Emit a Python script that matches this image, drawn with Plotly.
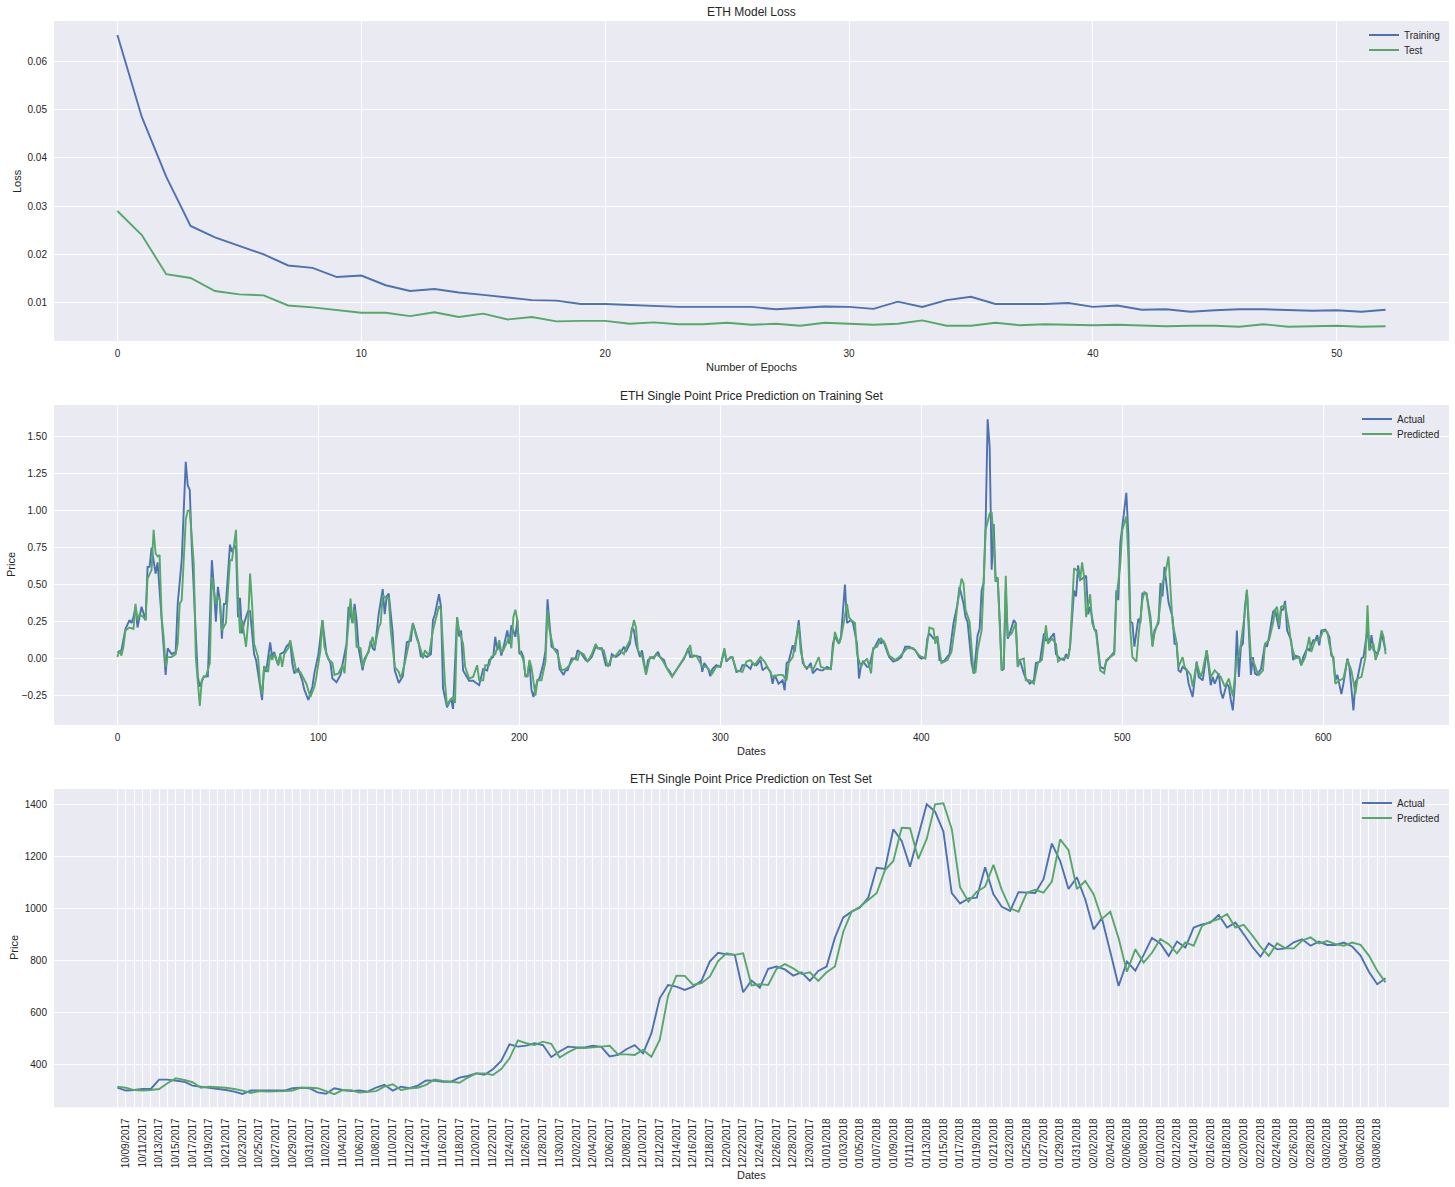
import pandas as pd
import plotly.graph_objects as go

# ---------------- data ----------------
epochs = list(range(53))
loss_train = [0.0655, 0.0485, 0.0361, 0.0259, 0.0235, 0.0217, 0.0200, 0.0177, 0.0172, 0.0153,
              0.0156, 0.0136, 0.0124, 0.0128, 0.0121, 0.0116, 0.0111, 0.0105, 0.0104, 0.0097,
              0.0097, 0.0095, 0.0093, 0.0091, 0.0091, 0.0091, 0.0091, 0.0086, 0.0089, 0.0092,
              0.0091, 0.0087, 0.0102, 0.0091, 0.0105, 0.0112, 0.0097, 0.0097, 0.0097, 0.0099,
              0.0091, 0.0094, 0.0085, 0.0086, 0.0081, 0.0084, 0.0086, 0.0086, 0.0085, 0.0083,
              0.0084, 0.0081, 0.0085]
loss_test = [0.0290, 0.0240, 0.0159, 0.0151, 0.0124, 0.0117, 0.0115, 0.0094, 0.0090, 0.0084,
             0.0079, 0.0079, 0.0072, 0.0080, 0.0070, 0.0077, 0.0065, 0.0070, 0.0061, 0.0062,
             0.0062, 0.0056, 0.0059, 0.0055, 0.0055, 0.0058, 0.0054, 0.0056, 0.0052, 0.0058,
             0.0056, 0.0054, 0.0056, 0.0063, 0.0052, 0.0052, 0.0058, 0.0053, 0.0055, 0.0054,
             0.0053, 0.0054, 0.0053, 0.0051, 0.0052, 0.0052, 0.0050, 0.0055, 0.0050, 0.0051,
             0.0052, 0.0050, 0.0051]

train_actual_idx = [
    0, 2, 4, 6, 7, 8, 9, 10, 12, 14, 15, 16, 17, 19, 20, 22, 24, 25, 27, 29, 30, 32, 34, 35, 36, 37, 38, 40, 41, 43,
    45, 47, 48, 49, 50, 51, 52, 53, 54, 56, 57, 58, 59, 60, 61, 62, 63, 65, 66, 68, 69, 72, 73, 74, 76, 77, 78, 80, 81, 83,
    84, 86, 87, 88, 90, 92, 93, 95, 97, 98, 100, 102, 104, 106, 107, 109, 111, 112, 114, 115, 117, 118, 119, 120, 122, 123, 125, 126, 127, 128,
    130, 132, 133, 134, 135, 137, 138, 140, 142, 144, 146, 147, 150, 151, 152, 154, 156, 157, 158, 160, 161, 162, 164, 165, 166, 167, 169, 170, 171, 172,
    175, 177, 179, 180, 182, 184, 185, 187, 188, 189, 190, 191, 192, 194, 195, 196, 197, 198, 199, 200, 201, 202, 203, 204, 205, 206, 207, 209, 210, 212,
    213, 214, 215, 216, 217, 219, 220, 222, 223, 224, 226, 228, 229, 231, 233, 234, 236, 238, 239, 241, 243, 245, 246, 248, 250, 252, 253, 255, 256, 257,
    258, 260, 261, 263, 264, 266, 267, 269, 270, 272, 273, 275, 276, 278, 280, 282, 284, 285, 287, 290, 291, 292, 294, 295, 296, 298, 300, 302, 303, 305,
    306, 308, 310, 311, 313, 315, 316, 318, 320, 321, 323, 325, 326, 327, 329, 331, 332, 333, 334, 336, 337, 339, 340, 341, 343, 345, 346, 348, 350, 351,
    353, 355, 356, 357, 359, 360, 362, 363, 365, 366, 368, 369, 370, 371, 373, 374, 376, 377, 379, 380, 381, 383, 384, 386, 388, 390, 392, 394, 397, 399,
    400, 402, 403, 404, 406, 408, 409, 411, 413, 414, 416, 418, 419, 421, 422, 423, 425, 426, 427, 428, 429, 430, 431, 432, 433, 434, 435, 436, 437, 438,
    439, 440, 441, 442, 443, 444, 446, 447, 448, 449, 451, 452, 454, 456, 457, 459, 461, 462, 463, 464, 466, 467, 469, 471, 472, 473, 474, 476, 477, 478,
    479, 480, 482, 483, 484, 486, 487, 489, 491, 492, 494, 496, 497, 498, 499, 501, 502, 503, 504, 505, 506, 508, 509, 510, 511, 512, 514, 515, 516, 518,
    519, 520, 521, 522, 523, 525, 526, 527, 528, 529, 530, 532, 533, 535, 536, 537, 538, 540, 541, 542, 544, 545, 546, 548, 549, 550, 552, 553, 554, 555,
    556, 557, 558, 559, 560, 561, 562, 563, 564, 565, 566, 567, 569, 571, 572, 573, 575, 576, 578, 579, 580, 581, 582, 584, 585, 586, 588, 589, 590, 592,
    593, 595, 596, 597, 598, 599, 601, 603, 604, 605, 606, 607, 609, 610, 612, 613, 615, 616, 617, 619, 620, 622, 623, 624, 625, 627, 628, 629, 631]
train_actual_val = [
    0.04, 0.056, 0.20, 0.26, 0.24, 0.28, 0.35, 0.21, 0.35, 0.26, 0.62, 0.62, 0.75, 0.575, 0.65, 0.26, -0.11, 0.07, 0.03, 0.045, 0.37, 0.665, 1.33, 1.17, 1.14, 0.755, 0.46, -0.12, -0.19, -0.12,
    -0.12, 0.665, 0.485, 0.25, 0.485, 0.39, 0.135, 0.37, 0.37, 0.77, 0.72, 0.755, 0.76, 0.28, 0.41, 0.17, 0.24, 0.32, 0.32, 0.03, -0.01, -0.28, -0.05, -0.09, 0.11, 0.01, 0.045, -0.045, 0.03, 0.045,
    0.08, 0.11, -0.03, -0.10, -0.07, -0.15, -0.21, -0.28, -0.19, -0.10, 0.03, 0.26, 0.03, -0.03, -0.135, -0.16, -0.11, -0.03, 0.10, 0.35, 0.24, 0.37, 0.26, 0.07, -0.08, 0.0, 0.045, 0.12, 0.07, 0.056,
    0.30, 0.47, 0.30, 0.42, 0.44, 0.17, -0.08, -0.165, -0.12, 0.11, 0.12, 0.24, 0.10, 0.01, 0.03, 0.01, 0.03, 0.26, 0.30, 0.435, 0.35, -0.20, -0.33, -0.30, -0.27, -0.34, 0.28, 0.15, 0.19, -0.08,
    -0.15, -0.15, -0.17, -0.18, -0.07, -0.08, -0.01, 0.01, 0.147, 0.056, 0.10, 0.02, 0.07, 0.19, 0.10, 0.225, 0.19, 0.147, 0.26, 0.03, 0.045, 0.01, -0.12, -0.12, -0.02, -0.21, -0.26, -0.147, -0.135, -0.03,
    0.056, 0.40, 0.24, 0.08, 0.07, 0.056, -0.07, -0.11, -0.08, -0.08, 0.0, 0.0, 0.056, 0.03, -0.01, -0.02, 0.01, 0.08, 0.07, 0.07, -0.045, -0.045, 0.03, 0.01, 0.03, 0.08, 0.045, 0.10, 0.21, 0.19,
    0.10, 0.01, 0.056, -0.10, -0.01, 0.01, 0.01, 0.045, 0.01, -0.01, -0.056, -0.09, -0.12, -0.08, -0.045, 0.0, 0.07, 0.01, 0.02, 0.01, -0.09, -0.03, -0.07, -0.12, -0.07, -0.045, -0.056, 0.056, -0.02, 0.01,
    0.01, -0.09, -0.08, -0.045, -0.045, -0.07, -0.03, -0.045, -0.01, -0.08, -0.056, -0.09, -0.17, -0.11, -0.17, -0.147, -0.214, -0.03, -0.02, 0.09, 0.045, 0.26, 0.10, -0.03, -0.07, -0.03, -0.10, -0.07, -0.08, -0.08,
    -0.056, -0.07, 0.10, 0.147, 0.10, 0.147, 0.50, 0.24, 0.26, 0.24, 0.10, -0.135, -0.045, -0.02, -0.056, -0.056, 0.056, 0.08, 0.135, 0.10, 0.124, 0.045, 0.01, -0.02, -0.01, 0.01, 0.08, 0.08, 0.056, 0.01,
    0.0, 0.01, 0.135, 0.17, 0.135, 0.147, -0.01, -0.02, 0.01, 0.03, 0.24, 0.37, 0.485, 0.37, 0.28, 0.25, -0.03, -0.10, 0.01, 0.158, 0.20, 0.46, 0.51, 0.91, 1.617, 1.43, 0.60, 0.91, 0.52, 0.54,
    0.26, -0.08, -0.07, 0.46, 0.135, 0.17, 0.26, 0.24, -0.056, -0.01, -0.10, -0.135, -0.17, -0.147, -0.03, -0.02, 0.17, 0.124, 0.124, 0.135, 0.17, 0.03, 0.0, -0.01, 0.03, 0.0, 0.08, 0.46, 0.42, 0.63,
    0.53, 0.54, 0.56, 0.30, 0.35, 0.20, 0.19, -0.056, -0.07, -0.02, 0.01, 0.045, 0.46, 0.395, 0.78, 1.03, 1.12, 0.846, 0.25, 0.24, 0.08, 0.27, 0.24, 0.44, 0.44, 0.44, 0.28, 0.09, 0.19, 0.24,
    0.51, 0.42, 0.62, 0.51, 0.38, 0.28, 0.10, 0.10, -0.08, -0.09, -0.056, -0.08, -0.17, -0.26, -0.147, -0.02, -0.124, -0.147, -0.056, 0.056, -0.18, -0.124, -0.17, -0.10, -0.225, -0.27, -0.17, -0.19, -0.28, -0.35,
    -0.17, 0.19, -0.124, 0.08, 0.10, 0.35, 0.46, 0.21, -0.11, 0.01, -0.10, -0.11, -0.07, 0.10, 0.08, 0.147, 0.315, 0.33, 0.20, 0.33, 0.33, 0.39, 0.19, 0.124, -0.01, 0.02, 0.01, -0.045, 0.01, 0.07,
    0.056, 0.124, 0.124, 0.158, 0.09, 0.19, 0.196, 0.147, 0.02, 0.01, -0.147, -0.11, -0.24, -0.17, 0.0, -0.056, -0.35, -0.158, -0.135, 0.0, 0.01, 0.20, 0.056, 0.158, 0.056, 0.03, 0.07, 0.17, 0.056]

train_pred_idx = [
    0, 1, 2, 3, 4, 6, 8, 9, 10, 11, 13, 14, 15, 17, 18, 19, 20, 21, 22, 23, 24, 25, 27, 29, 30, 31, 32, 34, 35, 36,
    38, 39, 41, 42, 43, 44, 46, 47, 49, 50, 51, 52, 54, 55, 56, 57, 59, 60, 61, 62, 64, 65, 66, 67, 68, 70, 71, 72, 73, 75,
    76, 77, 78, 80, 81, 82, 83, 85, 86, 88, 89, 91, 93, 94, 96, 98, 99, 101, 102, 103, 105, 107, 108, 110, 112, 113, 114, 116, 117, 118,
    119, 121, 122, 124, 125, 127, 128, 130, 131, 132, 134, 135, 136, 138, 140, 141, 143, 145, 147, 149, 151, 152, 153, 155, 157, 159, 160, 161, 163, 164,
    165, 167, 168, 169, 170, 172, 173, 175, 177, 179, 180, 182, 183, 185, 186, 188, 190, 191, 192, 195, 196, 197, 198, 199, 200, 202, 203, 204, 205, 206,
    208, 209, 211, 213, 214, 215, 217, 219, 221, 223, 225, 227, 229, 230, 232, 234, 236, 238, 239, 242, 244, 246, 248, 250, 252, 253, 255, 257, 258, 259,
    261, 263, 265, 267, 268, 270, 272, 274, 276, 278, 281, 283, 285, 286, 288, 291, 293, 296, 298, 300, 302, 303, 306, 308, 311, 313, 315, 317, 320, 322,
    324, 326, 329, 331, 333, 334, 336, 337, 339, 340, 342, 345, 346, 349, 350, 353, 355, 357, 359, 360, 363, 364, 365, 367, 368, 370, 371, 373, 375, 376,
    378, 380, 382, 384, 387, 389, 393, 396, 399, 402, 404, 406, 407, 408, 410, 413, 415, 417, 418, 420, 421, 422, 424, 426, 427, 428, 430, 431, 432, 434,
    435, 436, 437, 438, 439, 440, 441, 442, 443, 445, 447, 448, 449, 451, 452, 454, 456, 458, 460, 462, 463, 465, 467, 468, 470, 472, 473, 474, 476, 478,
    479, 480, 481, 482, 484, 485, 487, 489, 491, 492, 494, 496, 497, 499, 500, 502, 503, 504, 505, 507, 508, 510, 511, 512, 514, 515, 516, 518, 520, 521,
    523, 524, 525, 527, 528, 530, 531, 534, 535, 537, 539, 540, 542, 544, 546, 549, 551, 553, 554, 555, 557, 558, 559, 561, 562, 563, 564, 566, 567, 568,
    570, 571, 573, 575, 576, 577, 578, 579, 581, 583, 584, 586, 588, 589, 591, 593, 594, 596, 598, 600, 602, 603, 605, 606, 608, 610, 612, 614, 616, 617,
    619, 621, 622, 623, 625, 626, 627, 629, 630, 631]
train_pred_val = [
    0.01, 0.056, 0.02, 0.08, 0.19, 0.21, 0.20, 0.37, 0.26, 0.30, 0.28, 0.26, 0.54, 0.60, 0.87, 0.71, 0.69, 0.70, 0.28, 0.147, -0.056, 0.01, 0.01, 0.03, 0.10, 0.37, 0.395, 0.94, 1.00, 1.00,
    0.64, 0.01, -0.32, -0.147, -0.12, -0.124, -0.03, 0.55, 0.37, 0.42, 0.395, 0.19, 0.24, 0.42, 0.665, 0.665, 0.87, 0.42, 0.17, 0.26, 0.08, 0.24, 0.575, 0.37, 0.10, 0.01, -0.17, -0.24, -0.056, -0.09,
    0.03, -0.01, 0.03, -0.045, 0.03, -0.056, 0.03, 0.07, 0.124, -0.02, -0.09, -0.09, -0.147, -0.17, -0.26, -0.19, -0.124, 0.056, 0.26, 0.08, -0.005, -0.03, -0.11, -0.10, -0.045, -0.10, 0.08, 0.405, 0.24, 0.33,
    0.08, 0.07, -0.056, 0.01, 0.056, 0.147, 0.07, 0.21, 0.24, 0.43, 0.405, 0.41, 0.19, -0.056, -0.09, -0.135, -0.03, 0.10, 0.237, 0.135, 0.056, 0.0, 0.056, 0.02, 0.19, 0.30, 0.354, 0.33, -0.17, -0.316,
    -0.29, -0.26, -0.30, 0.28, 0.19, 0.10, -0.056, -0.135, -0.124, -0.045, -0.147, -0.147, -0.045, -0.045, 0.01, 0.03, 0.124, 0.045, 0.056, 0.147, 0.07, 0.28, 0.33, 0.26, 0.056, -0.01, -0.11, -0.124, -0.01, -0.056,
    -0.25, -0.147, -0.147, -0.02, 0.33, 0.19, 0.07, 0.03, -0.08, -0.07, -0.045, 0.0, -0.01, 0.045, 0.03, -0.02, 0.03, 0.10, 0.07, 0.056, -0.056, 0.01, 0.02, 0.056, 0.03, 0.07, 0.124, 0.26, 0.21, 0.056,
    0.02, -0.11, 0.01, 0.0, 0.03, 0.01, -0.03, -0.08, -0.124, -0.08, -0.01, 0.03, 0.09, 0.01, 0.02, -0.056, -0.056, -0.10, -0.056, -0.056, 0.07, -0.01, 0.01, -0.08, -0.09, -0.02, -0.01, -0.045, 0.01, -0.02,
    -0.07, -0.124, -0.11, -0.11, -0.147, -0.03, 0.01, 0.08, 0.225, 0.045, -0.056, -0.056, -0.08, 0.01, -0.056, -0.07, -0.07, 0.18, 0.10, 0.135, 0.37, 0.28, 0.26, 0.24, 0.03, -0.056, -0.03, 0.0, -0.10, 0.07,
    0.08, 0.135, 0.10, 0.02, -0.01, 0.01, 0.07, 0.07, 0.02, 0.0, 0.21, 0.20, 0.10, 0.147, -0.03, -0.01, 0.045, 0.24, 0.37, 0.54, 0.51, 0.33, 0.25, -0.10, -0.09, 0.056, 0.19, 0.51, 0.87, 0.98,
    0.99, 0.78, 0.52, 0.55, 0.19, -0.08, -0.056, 0.56, 0.147, 0.17, 0.24, -0.056, -0.01, 0.0, -0.147, -0.147, -0.17, -0.03, -0.01, 0.225, 0.10, 0.135, 0.10, -0.02, 0.0, 0.01, 0.01, 0.08, 0.61, 0.59,
    0.53, 0.65, 0.55, 0.28, 0.435, 0.24, 0.17, -0.08, -0.10, -0.01, 0.01, 0.03, 0.395, 0.64, 0.87, 0.96, 0.69, 0.19, 0.01, -0.02, 0.147, 0.395, 0.45, 0.44, 0.24, 0.08, 0.17, 0.26, 0.51, 0.55,
    0.69, 0.42, 0.24, 0.11, -0.056, 0.01, -0.056, -0.11, -0.19, -0.03, -0.124, -0.08, 0.056, -0.124, -0.08, -0.124, -0.19, -0.135, -0.20, -0.255, 0.01, 0.02, 0.10, 0.315, 0.467, 0.26, 0.01, -0.045, -0.09, -0.11,
    -0.08, 0.10, 0.124, 0.24, 0.33, 0.35, 0.225, 0.35, 0.36, 0.21, 0.10, 0.0, 0.01, -0.045, 0.01, 0.147, 0.045, 0.124, 0.124, 0.19, 0.18, 0.10, -0.01, -0.17, -0.147, -0.135, -0.01, -0.08, -0.237, -0.135,
    -0.124, 0.01, 0.36, 0.056, 0.10, -0.01, 0.03, 0.19, 0.147, 0.03]

test_start_date = "2017-10-08"
test_actual = [
    310, 299, 301, 305, 305, 341, 341, 338, 333, 318, 314, 310, 305, 301, 295, 286, 299, 299, 297, 297,
    299, 308, 310, 308, 292, 287, 308, 301, 297, 299, 295, 310, 321, 299, 314, 308, 318, 338, 337, 333,
    333, 349, 355, 365, 360, 381, 413, 477, 468, 472, 481, 474, 428, 449, 468, 465, 465, 471, 467, 430,
    436, 458, 474, 442, 519, 654, 705, 699, 686, 699, 721, 795, 829, 823, 821, 677, 722, 695, 767, 776,
    765, 741, 754, 721, 759, 776, 887, 965, 987, 1003, 1041, 1156, 1151, 1304, 1259, 1160, 1276, 1400, 1372, 1295,
    1058, 1018, 1038, 1041, 1158, 1054, 1006, 990, 1062, 1060, 1059, 1112, 1249, 1182, 1074, 1119, 1035, 919, 962, 833,
    701, 795, 760, 821, 886, 865, 817, 872, 849, 926, 938, 945, 974, 926, 945, 900, 853, 814, 865, 842,
    846, 869, 881, 856, 872, 859, 859, 868, 853, 818, 756, 708, 731]
test_pred = [
    314, 310, 301, 299, 301, 305, 327, 346, 340, 331, 310, 314, 312, 310, 305, 299, 290, 297, 295, 295,
    297, 299, 310, 310, 308, 297, 285, 301, 300, 291, 295, 297, 314, 323, 301, 308, 310, 321, 342, 336,
    333, 329, 349, 365, 365, 359, 382, 423, 492, 481, 474, 487, 479, 426, 446, 462, 462, 464, 468, 471,
    438, 438, 436, 455, 429, 494, 663, 741, 740, 705, 712, 737, 797, 827, 821, 827, 703, 708, 705, 767,
    785, 769, 747, 754, 721, 754, 776, 910, 987, 1006, 1032, 1058, 1147, 1182, 1310, 1308, 1190, 1267, 1400, 1404,
    1305, 1081, 1026, 1064, 1083, 1167, 1071, 1000, 987, 1060, 1071, 1060, 1103, 1265, 1224, 1074, 1105, 1054, 959, 987,
    885, 756, 842, 791, 829, 882, 862, 827, 869, 856, 932, 949, 958, 978, 926, 936, 897, 853, 817, 865,
    846, 846, 876, 888, 865, 874, 862, 856, 868, 859, 818, 760, 715]

test_dates = [d.strftime("%m/%d/%Y") for d in pd.date_range(test_start_date, periods=len(test_actual))]
test_idx = list(range(len(test_dates)))
test_ticktext = [d if i % 2 == 1 else "" for i, d in enumerate(test_dates)]

# ---------------- style ----------------
W, H = 1455, 1187
BLUE = "#4C72B0"
GREEN = "#55A868"
BG = "#EAEAF2"
TXT = "#262626"
FONT = "Liberation Sans, Arial, sans-serif"

def px_x(p):
    return p / W

def px_y(p):
    return 1 - p / H

XDOM = [px_x(54), px_x(1449)]
Y1 = [px_y(341), px_y(21)]
Y2 = [px_y(725), px_y(405)]
Y3 = [px_y(1107.3), px_y(789)]

fig = go.Figure()
lw = 1.9
fig.add_trace(go.Scatter(x=epochs, y=loss_train, mode="lines", name="Training",
                         line=dict(color=BLUE, width=lw), xaxis="x", yaxis="y", legend="legend"))
fig.add_trace(go.Scatter(x=epochs, y=loss_test, mode="lines", name="Test",
                         line=dict(color=GREEN, width=lw), xaxis="x", yaxis="y", legend="legend2"))
fig.add_trace(go.Scatter(x=train_actual_idx, y=train_actual_val, mode="lines", name="Actual",
                         line=dict(color=BLUE, width=lw), xaxis="x2", yaxis="y2", legend="legend3"))
fig.add_trace(go.Scatter(x=train_pred_idx, y=train_pred_val, mode="lines", name="Predicted",
                         line=dict(color=GREEN, width=lw), xaxis="x2", yaxis="y2", legend="legend4"))
fig.add_trace(go.Scatter(x=test_idx, y=test_actual, mode="lines", name="Actual",
                         line=dict(color=BLUE, width=lw), xaxis="x3", yaxis="y3", legend="legend5"))
fig.add_trace(go.Scatter(x=test_idx, y=test_pred, mode="lines", name="Predicted",
                         line=dict(color=GREEN, width=lw), xaxis="x3", yaxis="y3", legend="legend6"))

ax_common = dict(showline=False, zeroline=False, showgrid=True, gridcolor="white", gridwidth=1.3,
                 ticks="", tickfont=dict(family=FONT, size=10, color=TXT), fixedrange=True)

fig.update_layout(
    width=W, height=H, margin=dict(l=0, r=0, t=0, b=0),
    paper_bgcolor="white", plot_bgcolor=BG,
    font=dict(family=FONT, color=TXT, size=10),
    xaxis=dict(domain=XDOM, anchor="y", range=[-2.6, 54.6], tickvals=[0, 10, 20, 30, 40, 50],
               ticklabelstandoff=5, **ax_common),
    yaxis=dict(domain=Y1, anchor="x", range=[0.00203, 0.0684],
               tickvals=[0.01, 0.02, 0.03, 0.04, 0.05, 0.06], tickformat=".2f",
               ticklabelstandoff=6, **ax_common),
    xaxis2=dict(domain=XDOM, anchor="y2", range=[-31.55, 662.55],
                tickvals=[0, 100, 200, 300, 400, 500, 600], ticklabelstandoff=5, **ax_common),
    yaxis2=dict(domain=Y2, anchor="x2", range=[-0.449, 1.714],
                tickvals=[-0.25, 0, 0.25, 0.5, 0.75, 1.0, 1.25, 1.5], tickformat=".2f",
                ticklabelstandoff=6, **ax_common),
    xaxis3=dict(domain=XDOM, anchor="y3", range=[-7.6, 159.6], tickvals=test_idx, ticktext=test_ticktext,
                tickangle=-90, ticklabelstandoff=8, **ax_common),
    yaxis3=dict(domain=Y3, anchor="x3", range=[234.6, 1458.8],
                tickvals=[400, 600, 800, 1000, 1200, 1400], ticklabelstandoff=6, **ax_common),
    showlegend=True,
)

leg_common = dict(bgcolor="rgba(0,0,0,0)", borderwidth=0, font=dict(family=FONT, size=10, color=TXT),
                  xanchor="left", yanchor="middle", itemwidth=30)
fig.update_layout(
    legend=dict(x=px_x(1364), y=px_y(35), **leg_common),
    legend2=dict(x=px_x(1364), y=px_y(50), **leg_common),
    legend3=dict(x=px_x(1357), y=px_y(419), **leg_common),
    legend4=dict(x=px_x(1357), y=px_y(434), **leg_common),
    legend5=dict(x=px_x(1357), y=px_y(803), **leg_common),
    legend6=dict(x=px_x(1357), y=px_y(818), **leg_common),
)

def ann(text, x, y, size, angle=0):
    return dict(text=text, x=px_x(x), y=px_y(y), xref="paper", yref="paper", showarrow=False,
                xanchor="center", yanchor="middle", textangle=angle,
                font=dict(family=FONT, size=size, color=TXT))

fig.update_layout(annotations=[
    ann("ETH Model Loss", 751.5, 12, 12),
    ann("Number of Epochs", 751.5, 367, 11),
    ann("Loss", 17, 181, 11, -90),
    ann("ETH Single Point Price Prediction on Training Set", 751.5, 396, 12),
    ann("Dates", 751.5, 751, 11),
    ann("Price", 11, 565, 11, -90),
    ann("ETH Single Point Price Prediction on Test Set", 751.5, 779, 12),
    ann("Dates", 751.5, 1175, 11),
    ann("Price", 14, 948, 11, -90),
])

fig.write_html("out.html", config={"displayModeBar": False},
               post_script="document.body.style.margin='0';document.body.style.overflow='hidden';")
